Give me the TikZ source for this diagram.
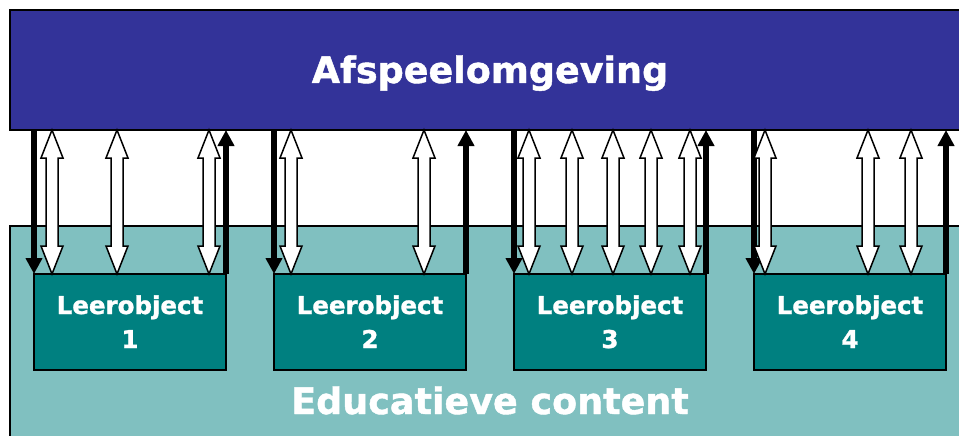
\documentclass[tikz,border=0pt]{standalone}
\usepackage{fontspec}
\setmainfont{DejaVu Sans}[BoldFeatures={FakeBold=1.2}]
\usetikzlibrary{arrows.meta,calc}

\definecolor{playblue}{HTML}{333399}
\definecolor{contentteal}{HTML}{80C0C0}
\definecolor{objteal}{HTML}{008080}

% hollow two-way arrow between the player bar and a learning object
% #1: x position, #2: name of the learning-object node
\newcommand\twoway[2]{%
  \coordinate (tw-t) at (#1,0 |- env.south);
  \coordinate (tw-b) at (#1,0 |- #2.north);
  \draw[twoarrow] (tw-t) -- ++(11,28) -- ++(-5,0)
    -- ($(tw-b)+(6,-28)$) -- ++(5,0) -- (tw-b)
    -- ++(-11,-28) -- ++(5,0)
    -- ($(tw-t)+(-6,28)$) -- ++(-5,0) -- cycle;
}

\begin{document}
\begin{tikzpicture}[x=1pt,y=-1pt,
  panel/.style={draw=black, line width=2pt, inner sep=0pt, outer sep=0pt, anchor=north west},
  lobox/.style={panel, fill=objteal, minimum width=192pt, minimum height=96pt},
  bigtext/.style={text=white, font=\bfseries\fontsize{36.5}{40}\selectfont, anchor=base, inner sep=0pt},
  lotext/.style={text=white, font=\bfseries\fontsize{24.5}{30}\selectfont, anchor=base, inner sep=0pt},
  twoarrow/.style={draw=black, fill=white, line width=1.5pt, line join=miter},
  blkarrow/.style={draw=black, line width=5.2pt, -{Triangle[length=16pt,width=16pt]}}]

\useasboundingbox (0,0) rectangle (959,436);
\fill[white] (0,0) rectangle (959,436);

% player environment and content layer
\node[panel, fill=playblue, minimum width=960pt, minimum height=120pt] (env) at (10,10) {};
\node[panel, fill=contentteal, minimum width=960pt, minimum height=230pt] (content) at (10,226) {};

\node[bigtext] (envlabel) at (490,83) {Afspeelomgeving};
\node[bigtext] (contentlabel) at (490,414) {Educatieve content};

% learning objects
\foreach \i/\x in {1/34, 2/274, 3/514, 4/754} {
  \node[lobox] (lo\i) at (\x,274) {};
  \node[lotext] (lo\i name) at ($(lo\i.north)+(0,40)$) {Leerobject};
  \node[lotext] (lo\i num) at ($(lo\i.north)+(0,74)$) {\i};
  % one-way calls: down on the left, up on the right
  \draw[blkarrow] (lo\i.north west |- env.south) -- (lo\i.north west);
  \draw[blkarrow] (lo\i.north east) -- (lo\i.north east |- env.south);
}

% two-way exchanges
\twoway{52}{lo1}
\twoway{117}{lo1}
\twoway{209}{lo1}
\twoway{291}{lo2}
\twoway{424}{lo2}
\twoway{529}{lo3}
\twoway{572}{lo3}
\twoway{613}{lo3}
\twoway{651}{lo3}
\twoway{690}{lo3}
\twoway{765}{lo4}
\twoway{868}{lo4}
\twoway{911}{lo4}

\end{tikzpicture}
\end{document}
